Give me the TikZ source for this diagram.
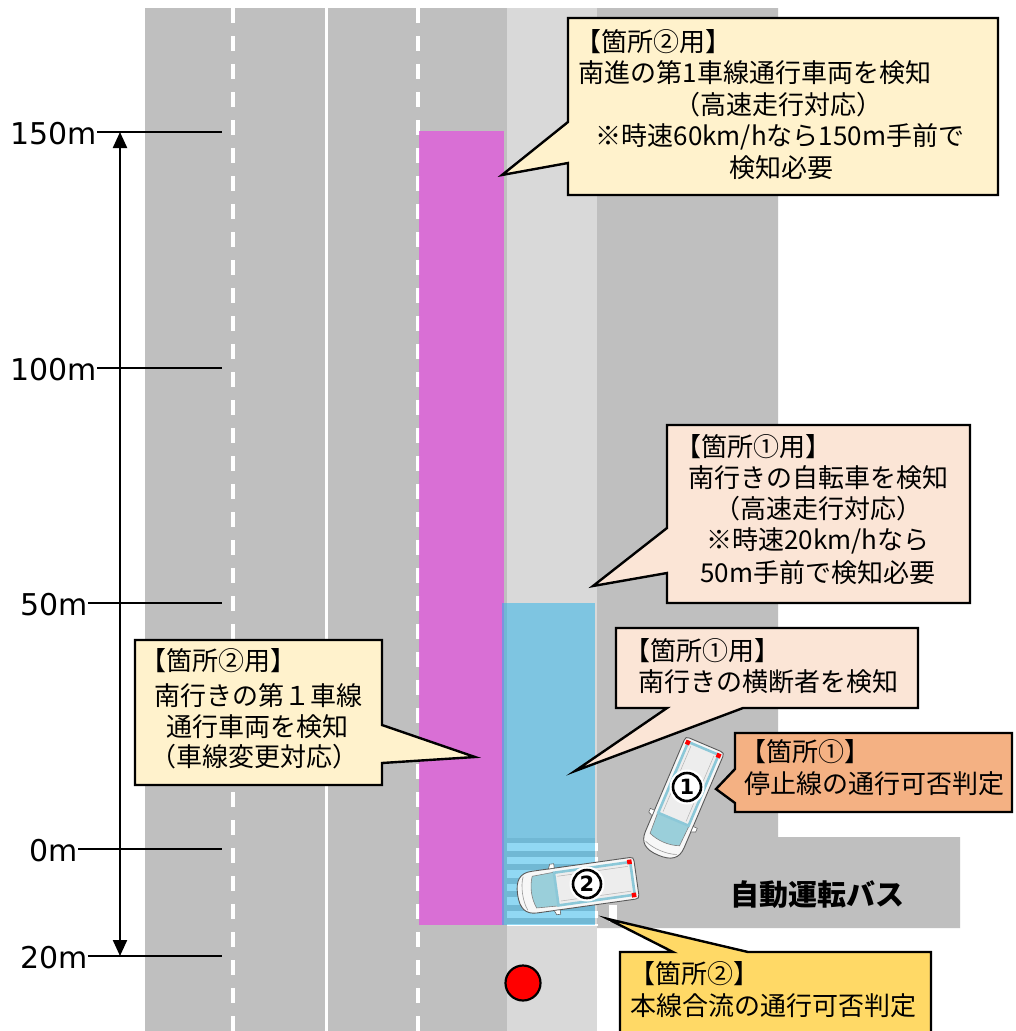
\documentclass[tikz,border=0pt]{standalone}
\usepackage{fontspec}
\newfontfamily\jp{Noto Sans CJK JP}
\newfontfamily\latinlbl{DejaVu Sans}
\usetikzlibrary{arrows.meta}
\definecolor{roadgray}{HTML}{BFBFBF}
\definecolor{lanegray}{HTML}{D9D9D9}
\definecolor{zonemag}{RGB}{222,97,218}
\definecolor{zoneblue}{RGB}{37,179,233}
\definecolor{noteyellow}{HTML}{FFF2CC}
\definecolor{notepeach}{HTML}{FBE5D6}
\definecolor{noteorange}{HTML}{F4B183}
\definecolor{notegold}{HTML}{FFD966}
\definecolor{glass}{HTML}{9ACFDA}
\definecolor{trim}{HTML}{8CC8D8}

\tikzset{
  jptext/.style={font=\jp\fontsize{26}{30}\selectfont, inner sep=0pt},
  distlbl/.style={font=\latinlbl\fontsize{30}{32}\selectfont, inner sep=0pt},
  note/.style={draw=black, line width=2.4pt, line join=miter},
  tick/.style={line width=1.3pt},
  bustext/.style={font=\jp\bfseries\fontsize{29}{30}\selectfont, inner sep=0pt},
  carnum/.style={circle, draw=black, line width=2.6pt, fill=white, minimum size=28pt,
    inner sep=0pt, font=\latinlbl\bfseries\fontsize{21}{21}\selectfont},
  % a minivan seen from above, front towards -x
  vehicle/.pic={
    \path[draw=black!65, line width=0.9pt, fill=black!3]
      (-44,-21) -- (55,-21) .. controls (58,-21) and (59,-20) .. (59,-17)
      -- (59,17) .. controls (59,20) and (58,21) .. (55,21)
      -- (-44,21) .. controls (-56,21) and (-61,14) .. (-61,0)
      .. controls (-61,-14) and (-56,-21) .. (-44,-21) -- cycle;
    \draw[black!40, line width=0.6pt] (-53,-17) .. controls (-57,-8) and (-57,8) .. (-53,17);
    \path[draw=black!50, line width=0.6pt, fill=glass]
      (-44,-16) .. controls (-48,-6) and (-48,6) .. (-44,16) -- (-22,17) -- (-22,-17) -- cycle;
    \path[draw=trim, line width=2.6pt, fill=black!7] (-22,-16.5) rectangle (55,16.5);
    \draw[black!30, line width=0.5pt] (-19,-12.5) -- (52,-12.5);
    \draw[black!30, line width=0.5pt] (-19,12.5) -- (52,12.5);
    \fill[red] (52,-19) rectangle (56.5,-14.5);
    \fill[red] (52,14.5) rectangle (56.5,19);
    \path[draw=black!60, fill=white, line width=0.6pt] (-27,-21) -- (-25,-25.5) -- (-21,-25.5) -- (-21,-21) -- cycle;
    \path[draw=black!60, fill=white, line width=0.6pt] (-27,21) -- (-25,25.5) -- (-21,25.5) -- (-21,21) -- cycle;
  }
}

\begin{document}
\begin{tikzpicture}[x=1pt,y=-1pt]
\useasboundingbox (0,0) rectangle (1015,1031);
\clip (0,0) rectangle (1015,1031);
\fill[white] (0,0) rectangle (1015,1031);

% carriageway, southbound lane and the side road used by the bus
\fill[roadgray] (145,8) rectangle (507,1031);
\fill[lanegray] (507,8) rectangle (597,1031);
\fill[roadgray] (597,8) -- (778,8) -- (778,837) -- (960,837) -- (960,928) -- (597,928) -- cycle;
\fill[white] (609,905) rectangle (617,922);

% zebra crossing
\begin{scope}
  \clip (507,838) rectangle (598,925);
  \fill[roadgray] (507,838) rectangle (595,925);
  \foreach \k in {0,...,6}
    \fill[white] (507,843+13.5*\k) rectangle (598,850.5+13.5*\k);
\end{scope}

% lane markings
\draw[white, line width=4pt, dash pattern=on 15pt off 13pt] (232.5,8) -- (232.5,1031);
\draw[white, line width=4pt, dash pattern=on 15pt off 13pt] (417.5,8) -- (417.5,1031);
\draw[white, line width=3pt] (326.5,8) -- (326.5,1031);

% detection zones
\fill[zonemag, opacity=0.85] (419,131) rectangle (504,925);
\fill[zoneblue, opacity=0.5] (502,603) rectangle (595,925);

% distance scale
\foreach \y/\t/\n in {132/150m/A, 368/100m/B, 603/50m/C, 849/0m/D, 956/20m/E} {
  \node[distlbl] (dist\n) at (54,\y+2) {\t};
  \coordinate (tickend\n) at (222,\y);
  \draw[tick] (dist\n.east |- tickend\n) -- (tickend\n);
}
\coordinate (arrtop) at (120,132);
\coordinate (arrbot) at (120,956);
\draw[line width=2.2pt, {Triangle[length=16pt,width=14pt]}-{Triangle[length=16pt,width=14pt]}] (arrtop) -- (arrbot);

% vehicles
\pic[rotate=67] at (682,799) {vehicle};
\pic[rotate=8] at (578,886) {vehicle};
\fill[white] (687,787) circle (17.5);
\node[carnum] (numone) at (687,787) {1};
\fill[white] (587,884) circle (17.5);
\node[carnum] (numtwo) at (587,884) {2};

% label on the bus road
\node[bustext] (bus) at (817,895) {自動運転バス};

% callouts
\path[note, fill=noteyellow] (568,18) -- (998,18) -- (998,195) -- (568,195) -- (568,163) -- (502,175) -- (568,122) -- cycle;
\node[jptext] (ta) at (653,42) {【箇所②用】};
\node[jptext] (tb) at (755,73) {南進の第1車線通行車両を検知};
\node[jptext] (tc) at (778,105) {（高速走行対応）};
\node[jptext] (td) at (780,137) {※時速60km/hなら150m手前で};
\node[jptext] (te) at (781,168) {検知必要};

\path[note, fill=notepeach] (667,425) -- (970,425) -- (970,603) -- (667,603) -- (667,573) -- (593,586) -- (667,528) -- cycle;
\node[jptext] (ba) at (753,447) {【箇所①用】};
\node[jptext] (bb) at (818,478) {南行きの自転車を検知};
\node[jptext] (bc) at (818,509) {（高速走行対応）};
\node[jptext] (bd) at (818,541) {※時速20km/hなら};
\node[jptext] (be) at (818,573) {50m手前で検知必要};

\path[note, fill=notepeach] (616,628) -- (918,628) -- (918,708) -- (743,708) -- (575,771) -- (667,708) -- (616,708) -- cycle;
\node[jptext] (ca) at (702,651) {【箇所①用】};
\node[jptext] (cb) at (768,682) {南行きの横断者を検知};

\path[note, fill=noteorange] (735,733) -- (1012,733) -- (1012,812) -- (735,812) -- (735,803) -- (716,789) -- (735,769) -- cycle;
\node[jptext] (oa) at (805,752) {【箇所①】};
\node[jptext] (ob) at (874,784) {停止線の通行可否判定};

\path[note, fill=noteyellow] (135,640) -- (382,640) -- (382,725) -- (475,757) -- (382,763) -- (382,785) -- (135,785) -- cycle;
\node[jptext] (la) at (218,661) {【箇所②用】};
\node[jptext] (lb) at (258,696) {南行きの第１車線};
\node[jptext] (lc) at (257,727) {通行車両を検知};
\node[jptext] (ld) at (254,757) {（車線変更対応）};

\path[note, fill=notegold] (620,952) -- (673,952) -- (608,919) -- (748,952) -- (931,952) -- (931,1045) -- (620,1045) -- cycle;
\node[jptext] (ga) at (694,974) {【箇所②】};
\node[jptext] (gb) at (773,1006) {本線合流の通行可否判定};

% signal
\node[circle, fill=red, draw=black, line width=2.2pt, minimum size=35pt, inner sep=0pt] (signal) at (523,983) {};
\end{tikzpicture}
\end{document}
